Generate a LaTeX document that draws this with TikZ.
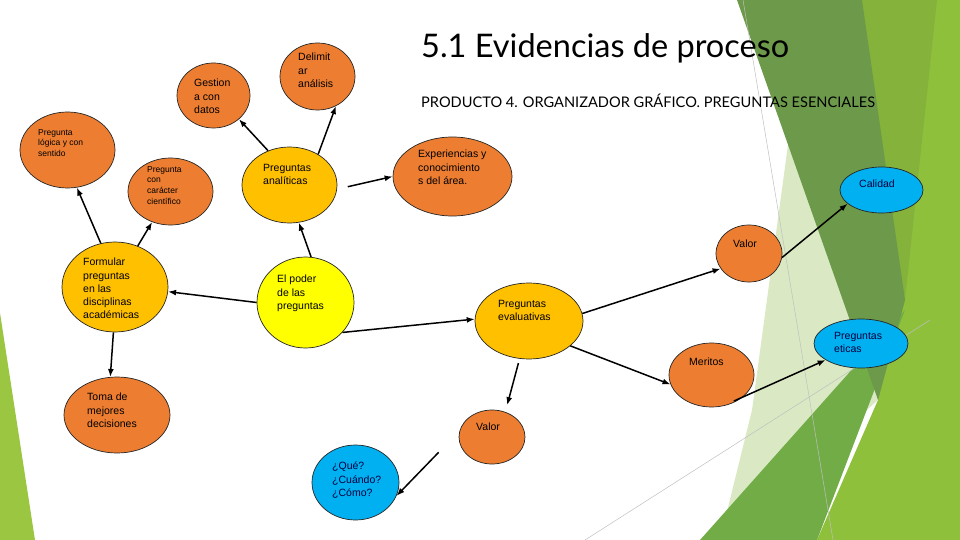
\documentclass[tikz,border=0pt]{standalone}
\usepackage{fontspec}
\setmainfont{Liberation Sans}
\newfontfamily\titlefont{Lato}
\usepackage{xcolor}
\usepackage{tikz}
\usetikzlibrary{arrows.meta,shapes.geometric}

\definecolor{orng}{RGB}{237,125,49}
\definecolor{ambr}{RGB}{255,192,0}
\definecolor{yllw}{RGB}{255,255,0}
\definecolor{skyb}{RGB}{0,176,240}
\definecolor{gDark}{RGB}{108,154,74}
\definecolor{gOlive}{RGB}{133,178,58}
\definecolor{gBright}{RGB}{143,192,60}
\definecolor{gMed}{RGB}{114,172,71}
\definecolor{gPale}{RGB}{218,233,196}
\definecolor{gStrip}{RGB}{155,198,66}

\begin{document}
\begin{tikzpicture}[
  x=1pt,y=-1pt,
  bub/.style={ellipse,draw=black!85,line width=0.7pt,inner sep=0pt},
  sz/.style 2 args={minimum width=#1,minimum height=#2},
  txt/.style={anchor=north west,align=left,inner sep=0pt,font=\fontsize{10.5}{13.2}\selectfont},
  tiny/.style={anchor=north west,align=left,inner sep=0pt,font=\fontsize{8.5}{10.7}\selectfont},
  arr/.style={-{Latex[length=8pt,width=6pt]},line width=1.5pt}
]
\useasboundingbox (0,0) rectangle (960,540);

% background facets
\fill[gBright] (862,0) -- (960,0) -- (960,540) -- (817,540) -- (878,400) -- cycle;
\fill[gOlive] (862,0) -- (937,0) -- (905,300) -- (878,400) -- cycle;
\fill[gPale] (790,130) -- (878,400) -- (720,540) -- (752,410) -- cycle;
\fill[gMed] (700,540) -- (905,310) -- (817,540) -- cycle;
\fill[gDark] (737,0) -- (862,0) -- (905,300) -- (878,400) -- cycle;
\fill[gBright] (817,540) -- (960,290) -- (960,540) -- cycle;
\fill[gStrip] (0,313) -- (35,540) -- (0,540) -- cycle;
\draw[black!25,line width=0.5pt] (743,0) -- (833,540);
\draw[black!25,line width=0.5pt] (585,540) -- (930,320);

% titles
\node[anchor=west,inner sep=0pt,font=\titlefont\fontsize{32.5}{36}\selectfont] (title) at (421,48) {5.1 Evidencias de proceso};
\node[anchor=west,inner sep=0pt,font=\titlefont\fontsize{14.6}{16}\selectfont] (subtitle) at (421,101) {PRODUCTO 4. ORGANIZADOR GRÁFICO. PREGUNTAS ESENCIALES};

% bubbles
\node[bub,fill=orng,sz={73pt}{65pt}] (gestion) at (213.5,95.5) {};
\node[bub,fill=orng,sz={75pt}{67pt}] (delimitar) at (317.5,76.5) {};
\node[bub,fill=orng,sz={95pt}{76pt}] (logica) at (67.5,150) {};
\node[bub,fill=orng,sz={85pt}{67pt}] (cientifico) at (170.5,191.5) {};
\node[bub,fill=ambr,sz={95pt}{76pt}] (analiticas) at (289.5,185) {};
\node[bub,fill=orng,sz={119pt}{79pt}] (experiencias) at (452.5,176.5) {};
\node[bub,fill=skyb,sz={83pt}{46pt}] (calidad) at (881.5,190) {};
\node[bub,fill=orng,sz={66pt}{57pt}] (valorA) at (749,253.5) {};
\node[bub,fill=ambr,sz={106pt}{90pt}] (formular) at (115,287) {};
\node[bub,fill=yllw,sz={97pt}{91pt}] (poder) at (305.5,302.5) {};
\node[bub,fill=ambr,sz={108pt}{76pt}] (evaluativas) at (529,321) {};
\node[bub,fill=orng,sz={85pt}{64pt}] (meritos) at (711.5,375) {};
\node[bub,fill=skyb,sz={94pt}{49pt}] (eticas) at (861,343.5) {};
\node[bub,fill=orng,sz={106pt}{76pt}] (toma) at (117,415) {};
\node[bub,fill=orng,sz={66pt}{54pt}] (valorB) at (492,437) {};
\node[bub,fill=skyb,sz={87pt}{75pt}] (como) at (355.5,482.5) {};

% texts
\node[txt] (gestion-t) at (194,79) {Gestion\\a con\\datos};
\node[txt] (delimitar-t) at (298,53) {Delimit\\ar\\análisis};
\node[tiny] (logica-t) at (38,129) {Pregunta\\lógica y con\\sentido};
\node[tiny] (cientifico-t) at (147,166) {Pregunta\\con\\carácter\\científico};
\node[txt] (analiticas-t) at (263,164) {Preguntas\\analíticas};
\node[txt] (experiencias-t) at (418,150) {Experiencias y\\conocimiento\\s del área.};
\node[txt,text=blue!25!black] (calidad-t) at (859,180) {Calidad};
\node[txt] (valorA-t) at (733,240) {Valor};
\node[txt] (formular-t) at (83,258) {Formular\\preguntas\\en las\\disciplinas\\académicas};
\node[txt] (poder-t) at (277,275) {El poder\\de las\\preguntas};
\node[txt] (evaluativas-t) at (498,300) {Preguntas\\evaluativas};
\node[txt] (meritos-t) at (689,358) {Meritos};
\node[txt,text=blue!25!black] (eticas-t) at (834,332) {Preguntas\\eticas};
\node[txt] (toma-t) at (87,393) {Toma de\\mejores\\decisiones};
\node[txt] (valorB-t) at (476,423) {Valor};
\node[txt,text=blue!25!black] (como-t) at (332,462) {¿Qué?\\¿Cuándo?\\¿Cómo?};

% arrows
\draw[arr] (analiticas.122) -- (gestion.-43);
\draw[arr] (analiticas.47) -- (delimitar.-58);
\draw[arr] (formular.108) -- (logica.-76);
\draw[arr] (formular.61) -- (cientifico.-121);
\draw[arr] (poder.83) -- (analiticas.-76);
\draw[arr,shorten <=11pt] (analiticas.-5) -- (experiencias.180);
\draw[arr] (poder.180) -- (formular.-5);
\draw[arr] (poder.-39) -- (evaluativas.178);
\draw[arr] (evaluativas.8) -- (valorA.-152);
\draw[arr] (valorA.-7) -- (calidad.-158);
\draw[arr] (evaluativas.-31) -- (meritos.-167);
\draw[arr,shorten <=-10pt] (meritos.-35) -- (eticas.-155);
\draw[arr,shorten <=4.5pt,shorten >=7pt] (evaluativas.-104) -- (valorB.62);
\draw[arr,shorten <=30pt] (valorB.169) -- (como.-18);
\draw[arr] (formular.-92) -- (toma.100);
\end{tikzpicture}
\end{document}
